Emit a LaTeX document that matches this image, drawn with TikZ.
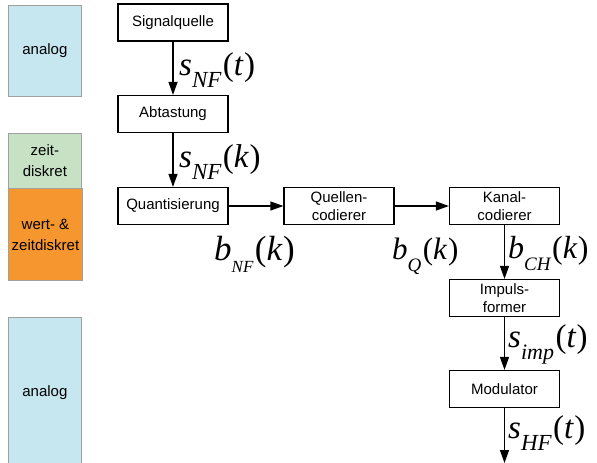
\documentclass[tikz,border=0pt]{standalone}
\usepackage{fontspec}
\setmainfont{Liberation Sans}
\newfontfamily\tms{Liberation Serif}
\usetikzlibrary{arrows.meta}
\definecolor{analogblue}{RGB}{198,230,240}
\definecolor{zeitgreen}{RGB}{198,225,196}
\definecolor{wertorange}{RGB}{246,150,46}
\definecolor{bandgray}{RGB}{160,160,160}
% signal label: letter, subscript, argument, main size, subscript size
\newcommand\sig[5]{{\fontsize{#4}{#4}\tms\itshape #1\raisebox{-12pt}{\fontsize{#5}{#5}\selectfont #2}\kern1.5pt\upshape(\itshape #3\kern1pt\upshape)}}
\tikzset{
  blk/.style={draw, line width=1.2pt, minimum width=110pt, minimum height=37pt, inner sep=1pt,
    align=center, font=\fontsize{15}{17.5}\selectfont},
  band/.style={draw=bandgray, line width=0.8pt, align=center, font=\fontsize{15}{21}\selectfont},
  flow/.style={line width=1.2pt, -{Triangle[length=13pt,width=9pt]}},
  lbl/.style={inner sep=0pt, anchor=base west}
}
\begin{document}
\begin{tikzpicture}[x=1pt,y=-1pt]
\useasboundingbox (0,0) rectangle (597,463);
% state bands on the left
\node[band, fill=analogblue, minimum width=73pt, minimum height=91pt, anchor=north west] (b1) at (8,5) {analog};
\node[band, fill=zeitgreen, minimum width=73pt, minimum height=55pt, anchor=north west] (b2) at (8,133) {zeit-\\diskret};
\node[band, fill=wertorange, minimum width=73pt, minimum height=92pt, anchor=north west] (b3) at (8,188) {wert- \&\\zeitdiskret};
\node[band, fill=analogblue, minimum width=73pt, minimum height=150pt, anchor=north west] (b4) at (8,317) {analog};
% processing chain
\node[blk] (src) at (173,22.5) {Signalquelle};
\node[blk] (abt) at (173,114) {Abtastung};
\node[blk] (qnt) at (173,206) {Quantisierung};
\node[blk] (qc) at (339,206) {Quellen-\\codierer};
\node[blk] (kc) at (504.5,206) {Kanal-\\codierer};
\node[blk] (imp) at (504.5,298) {Impuls-\\former};
\node[blk] (mod) at (504.5,389) {Modulator};
\coordinate (out) at (504.5,463);
\draw[flow] (src) -- (abt);
\draw[flow] (abt) -- (qnt);
\draw[flow] (qnt) -- (qc);
\draw[flow] (qc) -- (kc);
\draw[flow] (kc) -- (imp);
\draw[flow] (imp) -- (mod);
\draw[flow] (mod) -- (out);
% signal names
\node[lbl] (l1) at (179,75) {\sig{s}{NF}{t}{33}{23}};
\node[lbl] (l2) at (179,167) {\sig{s}{NF}{k}{33}{23}};
\node[lbl] (l3) at (214,260) {\sig{b}{NF}{k}{35}{17}};
\node[lbl] (l4) at (392,259) {\sig{b}{Q}{k}{31}{19}};
\node[lbl] (l5) at (508,258) {\sig{b}{CH}{k}{32}{19}};
\node[lbl] (l6) at (508,347) {\sig{s}{imp}{t}{33}{22}};
\node[lbl] (l7) at (508,438) {\sig{s}{HF}{t}{33}{23}};
\end{tikzpicture}
\end{document}
